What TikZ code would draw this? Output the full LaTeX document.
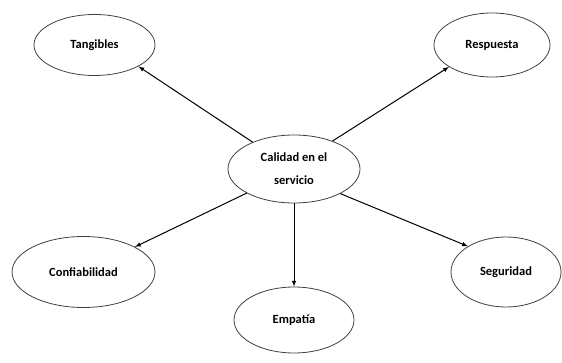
\documentclass[tikz,border=0pt]{standalone}
\usepackage{fontspec}
\setmainfont{Carlito}
\usetikzlibrary{arrows}
\usepgflibrary{shapes.geometric}

\tikzset{
    dim/.style={draw=black!75, line width=0.8pt, ellipse, inner sep=0pt, font=\bfseries\fontsize{12.5}{23}\selectfont, align=center},
    arr/.style={->, >=latex, line width=1pt}
}

\begin{document}
\begin{tikzpicture}[x=1pt, y=-1pt]
            \useasboundingbox (0,0) rectangle (562,363);
            \node[dim, minimum width=132, minimum height=68] (serv) at (294,169) {Calidad en el\\servicio};
            \node[dim, minimum width=121, minimum height=61] (tang) at (94.5,45) {Tangibles};
            \node[dim, minimum width=116, minimum height=64] (resp) at (492,45) {Respuesta};
            \node[dim, minimum width=143, minimum height=71] (conf) at (83.5,272) {Confiabilidad};
            \node[dim, minimum width=120, minimum height=66] (emp) at (294,320) {Empatía};
            \node[dim, minimum width=110, minimum height=70] (seg) at (506,272) {Seguridad};

            \draw[arr] (serv.147) -- (tang.-26);
            \draw[arr] (serv.36) -- (resp.-153);
            \draw[arr] (serv.207) -- (conf.26);
            \draw[arr] (serv.south) -- (emp.north);
            \draw[arr] (serv.-28) -- (seg.146);
        \end{tikzpicture}
\end{document}
